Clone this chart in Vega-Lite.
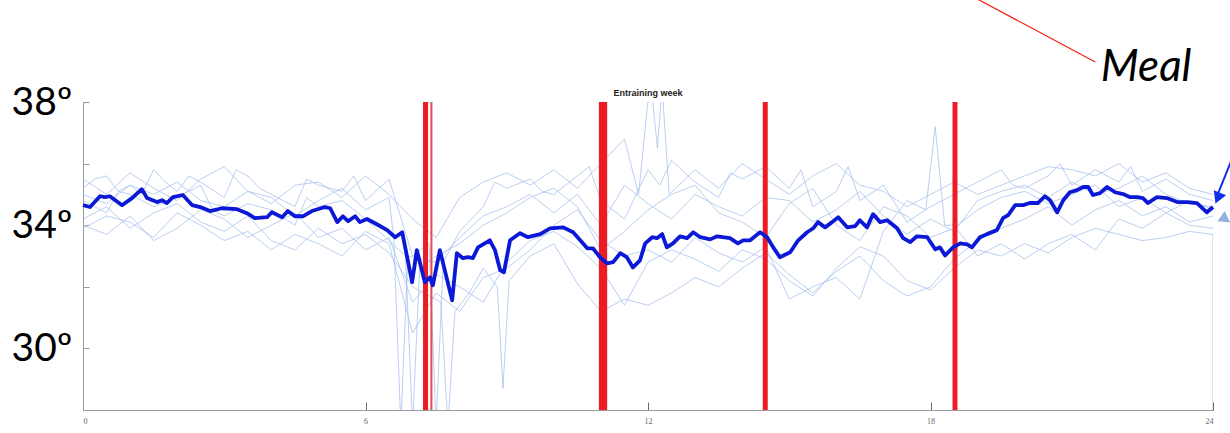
{
  "$schema": "https://vega.github.io/schema/vega-lite/v6.json",
  "autosize": "none",
  "width": 1130,
  "height": 308,
  "padding": {"left": 83, "top": 102, "right": 17, "bottom": 23},
  "background": "white",
  "config": {"view": {"stroke": null}},
  "datasets": {
    "mean": [
      {"h":0,"t":34.65},{"h":0.15,"t":34.59},{"h":0.36,"t":34.94},{"h":0.47,"t":34.91},{"h":0.57,"t":34.94},{"h":0.83,"t":34.65},{"h":1.04,"t":34.88},{"h":1.25,"t":35.17},{"h":1.36,"t":34.88},{"h":1.57,"t":34.75},{"h":1.68,"t":34.81},{"h":1.78,"t":34.72},{"h":1.91,"t":34.91},{"h":2.12,"t":34.98},{"h":2.32,"t":34.65},{"h":2.49,"t":34.59},{"h":2.7,"t":34.46},{"h":2.95,"t":34.55},{"h":3.27,"t":34.52},{"h":3.48,"t":34.39},{"h":3.65,"t":34.23},{"h":3.91,"t":34.26},{"h":4.01,"t":34.42},{"h":4.23,"t":34.26},{"h":4.35,"t":34.46},{"h":4.5,"t":34.29},{"h":4.67,"t":34.29},{"h":4.86,"t":34.46},{"h":5.14,"t":34.59},{"h":5.25,"t":34.55},{"h":5.4,"t":34.1},{"h":5.52,"t":34.29},{"h":5.63,"t":34.13},{"h":5.78,"t":34.29},{"h":5.88,"t":34.1},{"h":6.03,"t":34.2},{"h":6.24,"t":34.03},{"h":6.46,"t":33.84},{"h":6.63,"t":33.61},{"h":6.78,"t":33.77},{"h":6.99,"t":32.15},{"h":7.09,"t":33.19},{"h":7.26,"t":32.15},{"h":7.37,"t":32.31},{"h":7.43,"t":32.05},{"h":7.58,"t":33.19},{"h":7.84,"t":31.56},{"h":7.94,"t":33.09},{"h":8.07,"t":32.93},{"h":8.18,"t":32.96},{"h":8.28,"t":32.93},{"h":8.39,"t":33.28},{"h":8.64,"t":33.51},{"h":8.75,"t":33.19},{"h":8.86,"t":32.54},{"h":8.94,"t":32.47},{"h":9.07,"t":33.51},{"h":9.28,"t":33.74},{"h":9.45,"t":33.61},{"h":9.71,"t":33.71},{"h":9.92,"t":33.9},{"h":10.2,"t":33.93},{"h":10.41,"t":33.77},{"h":10.56,"t":33.51},{"h":10.71,"t":33.25},{"h":10.83,"t":33.25},{"h":10.98,"t":32.96},{"h":11.13,"t":32.76},{"h":11.26,"t":32.8},{"h":11.41,"t":33.09},{"h":11.55,"t":32.96},{"h":11.68,"t":32.63},{"h":11.83,"t":32.86},{"h":11.94,"t":33.41},{"h":12.09,"t":33.61},{"h":12.19,"t":33.58},{"h":12.3,"t":33.71},{"h":12.4,"t":33.28},{"h":12.53,"t":33.41},{"h":12.68,"t":33.64},{"h":12.83,"t":33.58},{"h":12.96,"t":33.77},{"h":13.11,"t":33.61},{"h":13.32,"t":33.54},{"h":13.47,"t":33.64},{"h":13.59,"t":33.61},{"h":13.74,"t":33.58},{"h":13.91,"t":33.41},{"h":14.02,"t":33.51},{"h":14.17,"t":33.51},{"h":14.38,"t":33.77},{"h":14.53,"t":33.61},{"h":14.66,"t":33.28},{"h":14.8,"t":32.96},{"h":15.02,"t":33.12},{"h":15.19,"t":33.51},{"h":15.38,"t":33.77},{"h":15.51,"t":33.9},{"h":15.61,"t":34.1},{"h":15.76,"t":33.93},{"h":15.91,"t":34.1},{"h":16.04,"t":34.26},{"h":16.23,"t":33.93},{"h":16.4,"t":33.97},{"h":16.5,"t":34.16},{"h":16.65,"t":33.93},{"h":16.78,"t":34.36},{"h":16.93,"t":34.1},{"h":17.08,"t":34.16},{"h":17.29,"t":33.9},{"h":17.42,"t":33.58},{"h":17.57,"t":33.45},{"h":17.71,"t":33.64},{"h":17.93,"t":33.61},{"h":18.1,"t":33.22},{"h":18.2,"t":33.28},{"h":18.31,"t":33.02},{"h":18.48,"t":33.28},{"h":18.63,"t":33.41},{"h":18.78,"t":33.38},{"h":18.88,"t":33.28},{"h":19.05,"t":33.61},{"h":19.2,"t":33.71},{"h":19.41,"t":33.84},{"h":19.54,"t":34.23},{"h":19.65,"t":34.33},{"h":19.8,"t":34.65},{"h":19.97,"t":34.65},{"h":20.11,"t":34.72},{"h":20.28,"t":34.72},{"h":20.43,"t":34.94},{"h":20.54,"t":34.81},{"h":20.69,"t":34.42},{"h":20.82,"t":34.81},{"h":20.96,"t":35.07},{"h":21.11,"t":35.14},{"h":21.24,"t":35.24},{"h":21.35,"t":35.24},{"h":21.45,"t":34.98},{"h":21.6,"t":35.04},{"h":21.75,"t":35.24},{"h":21.92,"t":35.07},{"h":22.09,"t":35.01},{"h":22.24,"t":34.91},{"h":22.39,"t":34.91},{"h":22.51,"t":34.88},{"h":22.62,"t":34.72},{"h":22.81,"t":34.91},{"h":23.02,"t":34.88},{"h":23.24,"t":34.75},{"h":23.45,"t":34.75},{"h":23.66,"t":34.72},{"h":23.87,"t":34.42},{"h":24,"t":34.59}
    ],
    "faint": [
      {"s":"A","h":0,"t":35.2},{"s":"A","h":0.25,"t":35.5},{"s":"A","h":0.5,"t":35.6},{"s":"A","h":0.75,"t":35.1},{"s":"A","h":1,"t":35.3},{"s":"A","h":1.25,"t":35.0},{"s":"A","h":1.5,"t":35.8},{"s":"A","h":1.75,"t":35.4},{"s":"A","h":2,"t":35.1},{"s":"A","h":2.25,"t":35.6},{"s":"A","h":2.5,"t":35.4},{"s":"A","h":3,"t":34.9},{"s":"A","h":3.25,"t":35.8},{"s":"A","h":3.5,"t":35.6},{"s":"A","h":3.75,"t":35.2},{"s":"A","h":4,"t":35.0},{"s":"A","h":4.5,"t":34.6},{"s":"A","h":4.75,"t":35.5},{"s":"A","h":5,"t":35.3},{"s":"A","h":5.5,"t":35.1},{"s":"A","h":5.75,"t":35.6},{"s":"A","h":6,"t":34.8},{"s":"A","h":6.5,"t":35.5},{"s":"A","h":7,"t":33.0},{"s":"A","h":7.35,"t":33.4},{"s":"A","h":7.5,"t":27.5},{"s":"A","h":7.65,"t":32.8},{"s":"A","h":8,"t":33.8},{"s":"A","h":8.5,"t":34.6},{"s":"A","h":8.75,"t":35.4},{"s":"A","h":9,"t":35.2},{"s":"A","h":9.5,"t":35.5},{"s":"A","h":9.75,"t":35.1},{"s":"A","h":10,"t":35.0},{"s":"A","h":10.5,"t":35.6},{"s":"A","h":10.75,"t":35.9},{"s":"A","h":11,"t":34.8},{"s":"A","h":11.5,"t":34.2},{"s":"A","h":12,"t":35.8},{"s":"A","h":12.25,"t":35.3},{"s":"A","h":12.5,"t":36.1},{"s":"A","h":13,"t":35.4},{"s":"A","h":13.5,"t":34.9},{"s":"A","h":13.75,"t":35.7},{"s":"A","h":14,"t":35.5},{"s":"A","h":14.5,"t":35.9},{"s":"A","h":15,"t":35.2},{"s":"A","h":15.25,"t":35.8},{"s":"A","h":15.5,"t":34.6},{"s":"A","h":16,"t":35.1},{"s":"A","h":16.25,"t":35.9},{"s":"A","h":16.5,"t":34.8},{"s":"A","h":17,"t":35.3},{"s":"A","h":17.5,"t":34.1},{"s":"A","h":18,"t":34.6},{"s":"A","h":18.5,"t":35.0},{"s":"A","h":19,"t":35.4},{"s":"A","h":19.5,"t":35.8},{"s":"A","h":19.75,"t":35.3},{"s":"A","h":20,"t":35.2},{"s":"A","h":20.5,"t":35.6},{"s":"A","h":20.75,"t":36.0},{"s":"A","h":21,"t":35.3},{"s":"A","h":21.5,"t":35.8},{"s":"A","h":22,"t":35.4},{"s":"A","h":22.25,"t":35.9},{"s":"A","h":22.5,"t":35.1},{"s":"A","h":23,"t":35.5},{"s":"A","h":23.5,"t":35.0},{"s":"A","h":24,"t":34.8},
      {"s":"B","h":0,"t":34.8},{"s":"B","h":0.5,"t":34.4},{"s":"B","h":0.75,"t":35.1},{"s":"B","h":1,"t":35.0},{"s":"B","h":1.5,"t":34.6},{"s":"B","h":2,"t":34.9},{"s":"B","h":2.5,"t":35.3},{"s":"B","h":2.75,"t":34.5},{"s":"B","h":3,"t":34.3},{"s":"B","h":3.5,"t":34.7},{"s":"B","h":4,"t":34.5},{"s":"B","h":4.5,"t":34.0},{"s":"B","h":4.75,"t":34.9},{"s":"B","h":5,"t":34.6},{"s":"B","h":5.5,"t":34.8},{"s":"B","h":6,"t":34.2},{"s":"B","h":6.5,"t":33.5},{"s":"B","h":6.85,"t":33.0},{"s":"B","h":7,"t":27.5},{"s":"B","h":7.15,"t":32.6},{"s":"B","h":7.5,"t":33.0},{"s":"B","h":8,"t":33.4},{"s":"B","h":8.5,"t":34.0},{"s":"B","h":9,"t":34.4},{"s":"B","h":9.5,"t":34.9},{"s":"B","h":10,"t":35.2},{"s":"B","h":10.5,"t":34.6},{"s":"B","h":11,"t":33.2},{"s":"B","h":11.5,"t":33.8},{"s":"B","h":12,"t":34.5},{"s":"B","h":12.5,"t":35.0},{"s":"B","h":13,"t":35.3},{"s":"B","h":13.5,"t":34.4},{"s":"B","h":14,"t":34.1},{"s":"B","h":14.5,"t":33.6},{"s":"B","h":15,"t":34.7},{"s":"B","h":15.5,"t":35.2},{"s":"B","h":16,"t":34.0},{"s":"B","h":16.5,"t":33.5},{"s":"B","h":17,"t":34.6},{"s":"B","h":17.5,"t":34.3},{"s":"B","h":18,"t":33.6},{"s":"B","h":18.5,"t":33.9},{"s":"B","h":19,"t":34.5},{"s":"B","h":19.5,"t":34.9},{"s":"B","h":20,"t":35.1},{"s":"B","h":20.5,"t":34.7},{"s":"B","h":21,"t":35.0},{"s":"B","h":21.5,"t":35.3},{"s":"B","h":22,"t":34.6},{"s":"B","h":22.5,"t":34.9},{"s":"B","h":23,"t":34.4},{"s":"B","h":23.5,"t":34.8},{"s":"B","h":24,"t":34.5},
      {"s":"C","h":0,"t":34.2},{"s":"C","h":0.5,"t":34.6},{"s":"C","h":1,"t":33.9},{"s":"C","h":1.5,"t":34.4},{"s":"C","h":2,"t":34.7},{"s":"C","h":2.5,"t":34.1},{"s":"C","h":3,"t":33.8},{"s":"C","h":3.5,"t":34.3},{"s":"C","h":4,"t":33.5},{"s":"C","h":4.5,"t":33.2},{"s":"C","h":5,"t":33.9},{"s":"C","h":5.5,"t":33.4},{"s":"C","h":6,"t":33.7},{"s":"C","h":6.5,"t":33.1},{"s":"C","h":7,"t":32.0},{"s":"C","h":7.6,"t":31.5},{"s":"C","h":7.75,"t":27.5},{"s":"C","h":7.9,"t":31.2},{"s":"C","h":8.2,"t":31.8},{"s":"C","h":8.5,"t":32.6},{"s":"C","h":8.8,"t":32.0},{"s":"C","h":8.92,"t":28.7},{"s":"C","h":9.05,"t":32.2},{"s":"C","h":9.5,"t":33.0},{"s":"C","h":10,"t":33.4},{"s":"C","h":10.5,"t":32.1},{"s":"C","h":11,"t":31.2},{"s":"C","h":11.5,"t":31.6},{"s":"C","h":12,"t":31.4},{"s":"C","h":12.5,"t":31.8},{"s":"C","h":13,"t":32.3},{"s":"C","h":13.5,"t":32.0},{"s":"C","h":14,"t":32.6},{"s":"C","h":14.5,"t":33.1},{"s":"C","h":15,"t":32.4},{"s":"C","h":15.5,"t":31.8},{"s":"C","h":16,"t":32.5},{"s":"C","h":16.5,"t":33.0},{"s":"C","h":17,"t":32.2},{"s":"C","h":17.5,"t":31.7},{"s":"C","h":18,"t":32.0},{"s":"C","h":18.5,"t":32.9},{"s":"C","h":19,"t":33.5},{"s":"C","h":19.5,"t":33.9},{"s":"C","h":20,"t":34.2},{"s":"C","h":20.5,"t":34.6},{"s":"C","h":21,"t":34.0},{"s":"C","h":21.5,"t":34.5},{"s":"C","h":22,"t":34.8},{"s":"C","h":22.5,"t":34.3},{"s":"C","h":23,"t":34.6},{"s":"C","h":23.5,"t":34.1},{"s":"C","h":24,"t":34.3},
      {"s":"D","h":0,"t":34.0},{"s":"D","h":0.5,"t":33.7},{"s":"D","h":1,"t":34.3},{"s":"D","h":1.5,"t":33.5},{"s":"D","h":2,"t":33.9},{"s":"D","h":2.5,"t":34.5},{"s":"D","h":3,"t":34.2},{"s":"D","h":3.5,"t":33.6},{"s":"D","h":4,"t":34.0},{"s":"D","h":4.5,"t":34.4},{"s":"D","h":5,"t":33.6},{"s":"D","h":5.5,"t":33.9},{"s":"D","h":6,"t":33.2},{"s":"D","h":6.5,"t":33.6},{"s":"D","h":7,"t":31.5},{"s":"D","h":7.5,"t":32.4},{"s":"D","h":8,"t":32.0},{"s":"D","h":8.5,"t":31.5},{"s":"D","h":9,"t":32.8},{"s":"D","h":9.5,"t":33.5},{"s":"D","h":10,"t":33.8},{"s":"D","h":10.5,"t":33.3},{"s":"D","h":11,"t":32.6},{"s":"D","h":11.5,"t":31.4},{"s":"D","h":12,"t":32.8},{"s":"D","h":12.5,"t":33.2},{"s":"D","h":13,"t":32.9},{"s":"D","h":13.5,"t":32.5},{"s":"D","h":14,"t":33.2},{"s":"D","h":14.5,"t":32.9},{"s":"D","h":15,"t":32.2},{"s":"D","h":15.5,"t":31.7},{"s":"D","h":16,"t":32.6},{"s":"D","h":16.5,"t":33.3},{"s":"D","h":17,"t":33.0},{"s":"D","h":17.5,"t":32.2},{"s":"D","h":18,"t":31.9},{"s":"D","h":18.5,"t":32.6},{"s":"D","h":19,"t":33.2},{"s":"D","h":19.5,"t":33.0},{"s":"D","h":20,"t":33.4},{"s":"D","h":20.5,"t":33.1},{"s":"D","h":21,"t":33.6},{"s":"D","h":21.5,"t":33.9},{"s":"D","h":22,"t":33.7},{"s":"D","h":22.5,"t":33.5},{"s":"D","h":23,"t":33.6},{"s":"D","h":23.5,"t":33.8},{"s":"D","h":24,"t":33.7},{"s":"D","h":24.001,"t":27.5},
      {"s":"E","h":0,"t":35.5},{"s":"E","h":0.5,"t":35.0},{"s":"E","h":1,"t":35.7},{"s":"E","h":1.5,"t":35.2},{"s":"E","h":2,"t":34.8},{"s":"E","h":2.5,"t":35.5},{"s":"E","h":3,"t":35.9},{"s":"E","h":3.5,"t":35.1},{"s":"E","h":4,"t":34.7},{"s":"E","h":4.5,"t":35.3},{"s":"E","h":5,"t":35.4},{"s":"E","h":5.5,"t":34.9},{"s":"E","h":6,"t":35.6},{"s":"E","h":6.5,"t":35.0},{"s":"E","h":7,"t":34.2},{"s":"E","h":7.5,"t":33.6},{"s":"E","h":8,"t":34.9},{"s":"E","h":8.5,"t":35.4},{"s":"E","h":9,"t":35.7},{"s":"E","h":9.5,"t":35.3},{"s":"E","h":10,"t":35.8},{"s":"E","h":10.5,"t":35.2},{"s":"E","h":11,"t":36.0},{"s":"E","h":11.5,"t":36.8},{"s":"E","h":11.8,"t":35.0},{"s":"E","h":12.05,"t":38.8},{"s":"E","h":12.2,"t":36.5},{"s":"E","h":12.3,"t":38.5},{"s":"E","h":12.45,"t":35.0},{"s":"E","h":13,"t":35.8},{"s":"E","h":13.5,"t":35.2},{"s":"E","h":14,"t":36.0},{"s":"E","h":14.5,"t":35.5},{"s":"E","h":15,"t":35.0},{"s":"E","h":15.5,"t":35.6},{"s":"E","h":16,"t":36.0},{"s":"E","h":16.5,"t":35.3},{"s":"E","h":17,"t":35.1},{"s":"E","h":17.5,"t":34.6},{"s":"E","h":18,"t":35.0},{"s":"E","h":18.5,"t":35.4},{"s":"E","h":19,"t":35.0},{"s":"E","h":19.5,"t":35.3},{"s":"E","h":20,"t":35.6},{"s":"E","h":20.5,"t":35.9},{"s":"E","h":21,"t":35.8},{"s":"E","h":21.5,"t":35.6},{"s":"E","h":22,"t":36.0},{"s":"E","h":22.5,"t":35.4},{"s":"E","h":23,"t":35.7},{"s":"E","h":23.5,"t":35.2},{"s":"E","h":24,"t":35.0},
      {"s":"F","h":0,"t":33.9},{"s":"F","h":0.5,"t":34.3},{"s":"F","h":1,"t":34.1},{"s":"F","h":1.5,"t":33.6},{"s":"F","h":2,"t":34.4},{"s":"F","h":2.5,"t":34.0},{"s":"F","h":3,"t":33.5},{"s":"F","h":3.5,"t":33.8},{"s":"F","h":4,"t":33.2},{"s":"F","h":4.5,"t":33.7},{"s":"F","h":5,"t":33.4},{"s":"F","h":5.5,"t":33.0},{"s":"F","h":6,"t":33.8},{"s":"F","h":6.5,"t":33.4},{"s":"F","h":7,"t":30.5},{"s":"F","h":7.5,"t":31.8},{"s":"F","h":8,"t":31.2},{"s":"F","h":8.5,"t":32.3},{"s":"F","h":9,"t":32.6},{"s":"F","h":9.5,"t":33.2},{"s":"F","h":10,"t":34.0},{"s":"F","h":10.5,"t":34.5},{"s":"F","h":11,"t":33.5},{"s":"F","h":11.5,"t":33.0},{"s":"F","h":12,"t":33.2},{"s":"F","h":12.5,"t":32.8},{"s":"F","h":13,"t":33.6},{"s":"F","h":13.5,"t":33.1},{"s":"F","h":14,"t":32.8},{"s":"F","h":14.5,"t":33.3},{"s":"F","h":15,"t":31.6},{"s":"F","h":15.5,"t":32.0},{"s":"F","h":16,"t":32.3},{"s":"F","h":16.5,"t":31.6},{"s":"F","h":17,"t":33.8},{"s":"F","h":17.5,"t":34.8},{"s":"F","h":17.9,"t":34.5},{"s":"F","h":18.1,"t":37.2},{"s":"F","h":18.3,"t":34.0},{"s":"F","h":18.5,"t":34.0},{"s":"F","h":19,"t":33.0},{"s":"F","h":19.5,"t":33.4},{"s":"F","h":20,"t":32.9},{"s":"F","h":20.5,"t":33.4},{"s":"F","h":21,"t":33.7},{"s":"F","h":21.5,"t":33.2},{"s":"F","h":22,"t":34.2},{"s":"F","h":22.5,"t":33.9},{"s":"F","h":23,"t":34.4},{"s":"F","h":23.5,"t":34.0},{"s":"F","h":24,"t":33.9},
      {"s":"G","h":0,"t":35.0},{"s":"G","h":0.5,"t":34.7},{"s":"G","h":1,"t":35.3},{"s":"G","h":1.5,"t":35.0},{"s":"G","h":2,"t":35.4},{"s":"G","h":2.5,"t":34.8},{"s":"G","h":3,"t":34.6},{"s":"G","h":3.5,"t":35.1},{"s":"G","h":4,"t":34.9},{"s":"G","h":4.5,"t":34.3},{"s":"G","h":5,"t":34.8},{"s":"G","h":5.5,"t":35.2},{"s":"G","h":6,"t":34.5},{"s":"G","h":6.5,"t":34.9},{"s":"G","h":6.6,"t":33.6},{"s":"G","h":6.75,"t":27.5},{"s":"G","h":6.9,"t":33.0},{"s":"G","h":7.5,"t":32.8},{"s":"G","h":8,"t":33.6},{"s":"G","h":8.5,"t":34.3},{"s":"G","h":9,"t":34.6},{"s":"G","h":9.5,"t":35.0},{"s":"G","h":10,"t":34.4},{"s":"G","h":10.5,"t":35.0},{"s":"G","h":11,"t":34.0},{"s":"G","h":11.5,"t":35.3},{"s":"G","h":12,"t":34.7},{"s":"G","h":12.5,"t":34.2},{"s":"G","h":13,"t":35.0},{"s":"G","h":13.5,"t":34.6},{"s":"G","h":14,"t":34.3},{"s":"G","h":14.5,"t":34.9},{"s":"G","h":15,"t":34.8},{"s":"G","h":15.5,"t":34.1},{"s":"G","h":16,"t":34.5},{"s":"G","h":16.5,"t":35.1},{"s":"G","h":17,"t":34.3},{"s":"G","h":17.5,"t":33.7},{"s":"G","h":18,"t":34.2},{"s":"G","h":18.5,"t":33.8},{"s":"G","h":19,"t":34.8},{"s":"G","h":19.5,"t":35.1},{"s":"G","h":20,"t":35.3},{"s":"G","h":20.5,"t":34.9},{"s":"G","h":21,"t":35.4},{"s":"G","h":21.5,"t":35.0},{"s":"G","h":22,"t":35.2},{"s":"G","h":22.5,"t":35.6},{"s":"G","h":23,"t":35.0},{"s":"G","h":23.5,"t":34.7},{"s":"G","h":24,"t":34.6}
    ],
    "meals": [
      {"h":7.275,"kind":"main"},{"h":7.4,"kind":"thin"},{"h":11.01,"kind":"main"},{"h":11.08,"kind":"main"},{"h":14.49,"kind":"main"},{"h":18.52,"kind":"main"}
    ],
    "pointer": [{"h":18.95,"t":41.38},{"h":21.5,"t":39.3}],
    "label": [{"h":22.58,"t":39.1,"text":"Meal"}],
    "heading": [{"h":12,"t":38.28,"text":"Entraining week"}],
    "arrowMean": [{"h":24.39,"t":36.1},{"h":24.1,"t":35.0}],
    "headMean": [{"h":24.1,"t":34.88}],
    "headFaint": [{"h":24.2,"t":34.2}]
  },
  "layer": [
    {
      "data": {"name": "faint"},
      "mark": {"type": "line", "clip": true, "strokeWidth": 1, "color": "#a9c3ee", "opacity": 0.8},
      "encoding": {
        "x": {"field": "h", "type": "quantitative", "scale": {"domain": [0, 24], "nice": false},
          "axis": {"values": [0, 6, 12, 18, 24], "title": null, "grid": false, "labelFontSize": 8, "labelFont": "Liberation Sans Narrow", "labelColor": "#666", "tickColor": "#666", "domainColor": "#999", "tickSize": -8, "labelPadding": 15}},
        "y": {"field": "t", "type": "quantitative", "scale": {"domain": [28, 38], "nice": false, "zero": false},
          "axis": {"values": [28, 30, 32, 34, 36, 38], "title": null, "grid": false, "labelExpr": "datum.value % 4 == 2 ? datum.value + 'º' : ''", "labelFont": "Lato", "labelFontSize": 39, "labelColor": "#000", "tickColor": "#999", "domainColor": "#999", "tickSize": -6, "labelPadding": 17}},
        "detail": {"field": "s", "type": "nominal"}
      }
    },
    {
      "data": {"name": "meals"},
      "transform": [{"filter": "datum.kind == 'main'"}],
      "mark": {"type": "rule", "color": "#ec1c24", "strokeWidth": 5},
      "encoding": {"x": {"field": "h", "type": "quantitative"}}
    },
    {
      "data": {"name": "meals"},
      "transform": [{"filter": "datum.kind == 'thin'"}],
      "mark": {"type": "rule", "color": "#e84a4f", "strokeWidth": 2},
      "encoding": {"x": {"field": "h", "type": "quantitative"}}
    },
    {
      "data": {"name": "mean"},
      "mark": {"type": "line", "color": "#0b18d6", "strokeWidth": 3.8, "strokeJoin": "round"},
      "encoding": {"x": {"field": "h", "type": "quantitative"}, "y": {"field": "t", "type": "quantitative"}}
    },
    {
      "data": {"name": "pointer"},
      "mark": {"type": "line", "color": "#f02010", "strokeWidth": 1.2, "clip": false},
      "encoding": {"x": {"field": "h", "type": "quantitative"}, "y": {"field": "t", "type": "quantitative"}}
    },
    {
      "data": {"name": "label"},
      "mark": {"type": "text", "font": "Lato", "fontStyle": "italic", "fontSize": 44, "color": "#000", "align": "center", "baseline": "middle"},
      "encoding": {"x": {"field": "h", "type": "quantitative"}, "y": {"field": "t", "type": "quantitative"}, "text": {"field": "text"}}
    },
    {
      "data": {"name": "heading"},
      "mark": {"type": "text", "font": "Liberation Sans", "fontWeight": "bold", "fontSize": 9, "color": "#222", "align": "center", "baseline": "middle"},
      "encoding": {"x": {"field": "h", "type": "quantitative"}, "y": {"field": "t", "type": "quantitative"}, "text": {"field": "text"}}
    },
    {
      "data": {"name": "arrowMean"},
      "mark": {"type": "line", "color": "#1030e8", "strokeWidth": 2, "clip": false},
      "encoding": {"x": {"field": "h", "type": "quantitative"}, "y": {"field": "t", "type": "quantitative"}}
    },
    {
      "data": {"name": "headMean"},
      "mark": {"type": "point", "shape": "triangle-up", "filled": true, "size": 180, "angle": 203, "color": "#1030e8", "opacity": 1, "clip": false},
      "encoding": {"x": {"field": "h", "type": "quantitative"}, "y": {"field": "t", "type": "quantitative"}}
    },
    {
      "data": {"name": "headFaint"},
      "mark": {"type": "point", "shape": "triangle-up", "filled": true, "size": 160, "angle": 245, "color": "#92b2e4", "opacity": 1, "clip": false},
      "encoding": {"x": {"field": "h", "type": "quantitative"}, "y": {"field": "t", "type": "quantitative"}}
    }
  ]
}
